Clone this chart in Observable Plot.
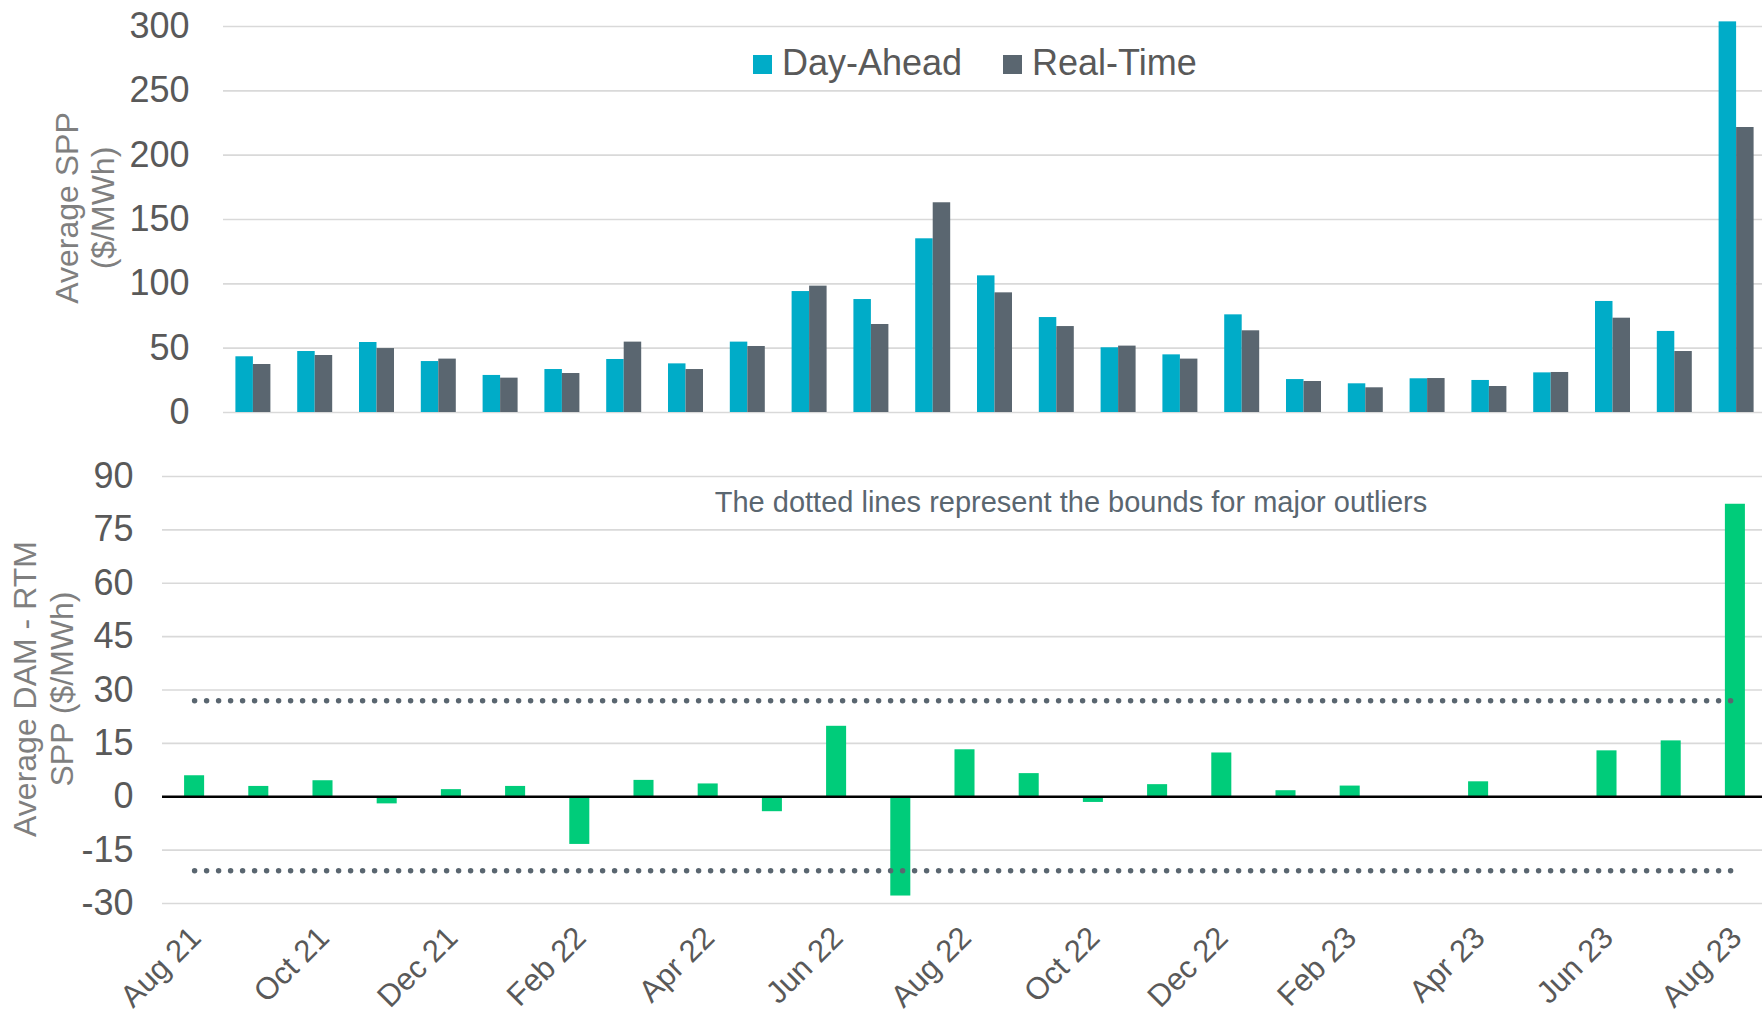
<!DOCTYPE html>
<html>
<head>
<meta charset="utf-8">
<script src="https://cdn.jsdelivr.net/npm/d3@7"></script>
<script src="https://cdn.jsdelivr.net/npm/@observablehq/plot@0.6"></script>
<style>
  body { margin: 0; background: #fff; font-family: "Liberation Sans", Arial, sans-serif; }
  #wrap { position: relative; width: 1762px; height: 1015px; overflow: hidden; background: #fff; }
  #top { position: absolute; left: 0; top: 0; }
  #bottom { position: absolute; left: 0; top: 430px; }
  .ytitle { position: absolute; width: 400px; text-align: center; font-size: 32px; color: #7f7f7f;
            transform: rotate(-90deg); transform-origin: 50% 50%; white-space: nowrap; }
  .legend-sw { position: absolute; width: 19px; height: 19px; }
  .legend-tx { position: absolute; font-size: 36px; line-height: 36px; color: #595959; white-space: nowrap; }
  #note { position: absolute; font-size: 29px; line-height: 29px; color: #5a6670; white-space: nowrap;
          left: 1071px; top: 488px; transform: translateX(-50%); }
</style>
</head>
<body>
<div id="wrap">
  <div id="top"></div>
  <div id="bottom"></div>
  <div class="ytitle" style="left:-115px; top:172px; line-height:36px; height:72px;">Average SPP<br>($/MWh)</div>
  <div class="ytitle" style="left:-156px; top:652px; line-height:37px; height:74px;">Average DAM - RTM<br>SPP ($/MWh)</div>
  <div class="legend-sw" style="left:753px; top:55px; background:#00acc8;"></div>
  <div class="legend-tx" style="left:782px; top:45px;">Day-Ahead</div>
  <div class="legend-sw" style="left:1003px; top:55px; background:#5a6670;"></div>
  <div class="legend-tx" style="left:1032px; top:45px;">Real-Time</div>
  <div id="note">The dotted lines represent the bounds for major outliers</div>
</div>
<script>
const months = ["Aug 21","Sep 21","Oct 21","Nov 21","Dec 21","Jan 22","Feb 22","Mar 22","Apr 22","May 22",
  "Jun 22","Jul 22","Aug 22","Sep 22","Oct 22","Nov 22","Dec 22","Jan 23","Feb 23","Mar 23","Apr 23",
  "May 23","Jun 23","Jul 23","Aug 23"];
const dayAhead = [43.3,47.4,54.4,39.6,28.8,33.4,41.2,37.8,54.7,94.0,87.8,135.0,106.2,73.8,50.3,44.8,75.9,
  25.6,22.3,26.2,24.9,30.8,86.3,63.0,303.6];
const realTime = [37.3,44.3,49.7,41.5,26.7,30.3,54.7,33.4,51.3,98.2,68.4,163.0,93.0,66.8,51.6,41.5,63.5,
  24.1,19.2,26.4,20.2,31.1,73.3,47.4,221.5];
const spread = [5.9,2.9,4.5,-2.0,2.0,2.9,-13.4,4.6,3.6,-4.2,19.8,-27.9,13.2,6.5,-1.6,3.4,12.3,1.7,3.0,
  -0.5,4.2,-0.2,12.9,15.7,82.2];
const outlierBounds = [27.0, -20.8];
const topTicks = [0,50,100,150,200,250,300];
const bottomTicks = [-30,-15,0,15,30,45,60,75,90];
const xTickLabels = months.filter((d, i) => i % 2 === 0);

const topData = months.map((m, i) => ({month: m, da: dayAhead[i], rt: realTime[i]}));
const spreadData = months.map((m, i) => ({month: m, v: spread[i]}));
const boundLines = outlierBounds.flatMap((v, i) => [
  {month: months[0], v, id: i}, {month: months[months.length - 1], v, id: i}
]);

const baseStyle = {fontFamily: '"Liberation Sans", Arial, sans-serif', color: "#595959", background: "transparent", overflow: "visible"};

const topPlot = Plot.plot({
  width: 1762, height: 430,
  marginTop: 26, marginBottom: 18, marginLeft: 223, marginRight: 0,
  style: baseStyle,
  x: {type: "band", domain: months, range: [222, 1767], paddingInner: 0.717, paddingOuter: 0.3585, round: false, axis: null},
  y: {domain: [0, 300], axis: null},
  marks: [
    Plot.gridY({ticks: topTicks, stroke: "#d9d9d9", strokeOpacity: 1, strokeWidth: 1.6}),
    Plot.axisY({ticks: topTicks, tickSize: 0, tickPadding: 34, fontSize: 36, label: null, tickFormat: d => String(d)}),
    Plot.barY(topData, {x: "month", y: "da", fill: "#00acc8", dx: -8.75}),
    Plot.barY(topData, {x: "month", y: "rt", fill: "#5a6670", dx: 8.75})
  ]
});
document.getElementById("top").append(topPlot);

const bottomPlot = Plot.plot({
  width: 1762, height: 585,
  marginTop: 46, marginBottom: 112, marginLeft: 162, marginRight: 0,
  style: baseStyle,
  x: {type: "band", domain: months, range: [162, 1767], paddingInner: 0.688, paddingOuter: 0.344, round: false, axis: null},
  y: {domain: [-30, 90], axis: null},
  marks: [
    Plot.gridY({ticks: bottomTicks, stroke: "#d9d9d9", strokeOpacity: 1, strokeWidth: 1.6}),
    Plot.axisY({ticks: bottomTicks, tickSize: 0, tickPadding: 29, fontSize: 36, label: null, tickFormat: d => String(d)}),
    Plot.barY(spreadData, {x: "month", y: "v", fill: "#00cc7a"}),
    Plot.ruleY([0], {stroke: "#000", strokeWidth: 2.5}),
    Plot.lineY(boundLines, {x: "month", y: "v", z: "id", stroke: "#5a6670", strokeWidth: 5.5,
      strokeDasharray: "0 12", strokeLinecap: "round"}),
    Plot.text(xTickLabels, {x: d => d, text: d => d, frameAnchor: "bottom", dx: 8, dy: 36, rotate: -45,
      textAnchor: "end", lineAnchor: "bottom", fontSize: 31, fill: "#595959"})
  ]
});
document.getElementById("bottom").append(bottomPlot);
</script>
</body>
</html>
